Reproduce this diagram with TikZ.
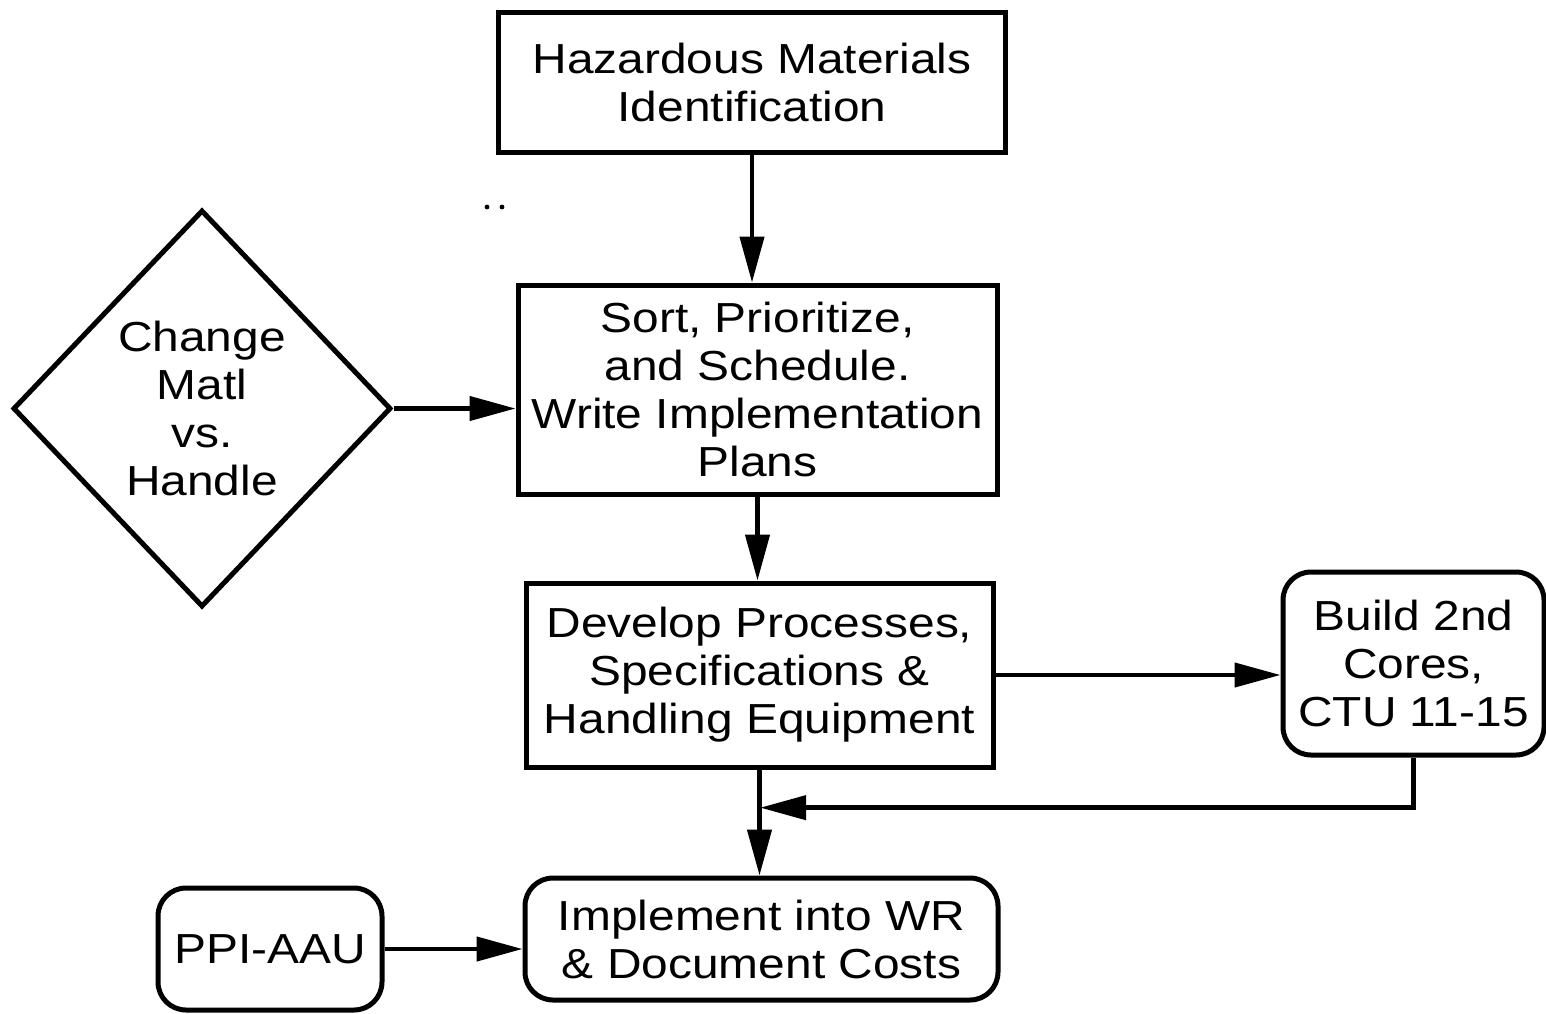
\documentclass[tikz,border=0pt]{standalone}
\usepackage{fontspec}
\setmainfont{Liberation Sans}[FakeStretch=1.14]
\usetikzlibrary{shapes.geometric,arrows.meta,calc}

\begin{document}
\begin{tikzpicture}[x=0.5pt,y=-0.5pt,
        box/.style={draw,line width=2.5pt,align=center,inner sep=2pt,font=\fontsize{21}{24}\selectfont},
        rbox/.style={box,rounded corners=14pt},
        decision/.style={box,shape=diamond,inner sep=0pt},
        arr/.style={line width=2.2pt,-{Triangle[length=23pt,width=12pt]}}]
        \useasboundingbox (0,0) rectangle (1546,1013);
        \node[box,minimum width=253.5pt,minimum height=70pt] (haz) at (752,82) {Hazardous Materials\\Identification};
        \node[box,minimum width=239.5pt,minimum height=104.5pt] (sort) at (757.5,389.5) {Sort, Prioritize,\\and Schedule.\\Write Implementation\\Plans};
        \node[box,minimum width=233.5pt,minimum height=92pt] (dev) at (759.5,675) {Develop Processes,\\Specifications \&\\Handling Equipment};
        \node[rbox,minimum width=236.5pt,minimum height=61pt] (impl) at (761.5,939) {Implement into WR\\\& Document Costs};
        \node[rbox,minimum width=130.5pt,minimum height=91.5pt] (build) at (1413.5,663.5) {Build 2nd\\Cores,\\CTU 11-15};
        \node[rbox,minimum width=112pt,minimum height=61pt] (ppi) at (270,949) {PPI-AAU};
        \node[decision,minimum width=189pt,minimum height=198.5pt] (matl) at (202,408.5) {Change\\Matl\\vs.\\Handle};
        \coordinate (join) at ($(dev.south)!0.36!(impl.north)$);
        \draw[arr] (haz.south) -- (haz.south |- sort.north);
        \draw[arr] (matl.east) -- (matl.east -| sort.west);
        \draw[arr] (sort.south) -- (sort.south |- dev.north);
        \draw[arr] (dev.east) -- (dev.east -| build.west);
        \draw[arr] (dev.south) -- (dev.south |- impl.north);
        \draw[arr] (build.south) |- (join);
        \draw[arr] (ppi.east) -- (ppi.east -| impl.west);
        \fill (487,207) circle (1.2pt);
        \fill (502,207) circle (1.2pt);
    \end{tikzpicture}
\end{document}
